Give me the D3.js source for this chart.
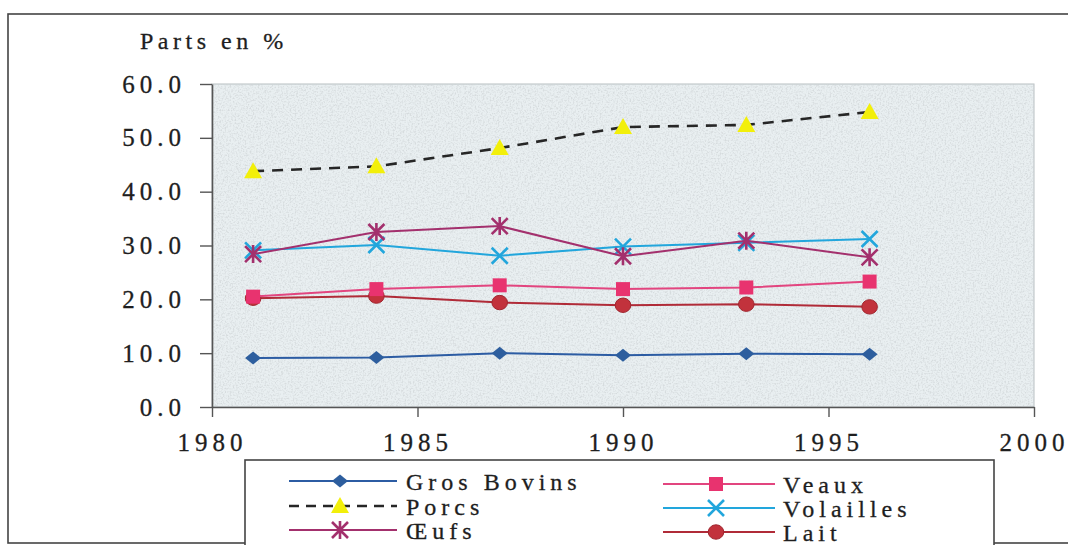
<!DOCTYPE html>
<html>
<head>
<meta charset="utf-8">
<script src="https://cdn.jsdelivr.net/npm/d3@7"></script>
<style>
  body { margin: 0; background: #fff; }
  svg text { font-family: "Liberation Serif", "Times New Roman", Times, "DejaVu Serif", serif !important; fill: #1e1e1e; stroke: #1e1e1e; stroke-width: 0.3px; }
</style>
</head>
<body>
<div id="vis"></div>
<script>
var years = [1981, 1984, 1987, 1990, 1993, 1996];
var grosBovins = [9.1, 9.2, 10.0, 9.6, 9.9, 9.8];
var veaux = [20.5, 21.9, 22.6, 21.9, 22.2, 23.3];
var porcs = [43.8, 44.7, 48.1, 52.0, 52.4, 54.8];
var volailles = [29.1, 30.1, 28.1, 29.8, 30.5, 31.2];
var oeufs = [28.4, 32.5, 33.6, 28.0, 30.9, 27.8];
var lait = [20.2, 20.6, 19.4, 18.9, 19.1, 18.6];
var yTicks = [0, 10, 20, 30, 40, 50, 60];
var xTicks = [1980, 1985, 1990, 1995, 2000];

var width = 1068;
var height = 545;

var series = [
  {name: "Gros Bovins", values: grosBovins, color: "#2c5ca3", marker: "diamond", fill: "#2d5e9e", col: 0, row: 0},
  {name: "Veaux", values: veaux, color: "#e2457f", marker: "square", fill: "#e8336f", col: 1, row: 0},
  {name: "Porcs", values: porcs, color: "#262626", marker: "triangle", fill: "#f2ef0a", dash: "11,8", col: 0, row: 1},
  {name: "Volailles", values: volailles, color: "#22a6dc", marker: "x", fill: "#22a6dc", col: 1, row: 1},
  {name: "Œufs", values: oeufs, color: "#a3306d", marker: "star", fill: "#a3306d", col: 0, row: 2},
  {name: "Lait", values: lait, color: "#b02b38", marker: "circle", fill: "#c2323c", col: 1, row: 2}
];

var x = d3.scaleLinear().domain([1980, 2000]).range([212, 1034]);
var y = d3.scaleLinear().domain([0, 60]).range([407, 84]);

var svg = d3.select('#vis').append('svg')
  .attr('width', width)
  .attr('height', height);

// speckled scan texture for the plot area
var defs = svg.append('defs');
var f = defs.append('filter').attr('id', 'grain').attr('x', 0).attr('y', 0).attr('width', 1).attr('height', 1);
f.append('feTurbulence').attr('type', 'fractalNoise').attr('baseFrequency', 0.6).attr('numOctaves', 2).attr('seed', 4).attr('result', 'n');
f.append('feColorMatrix').attr('in', 'n').attr('type', 'matrix')
  .attr('values', '0 0 0 0 0.6  0 0 0 0 0.63  0 0 0 0 0.65  0 0 0 -3 1.7');
f.append('feComposite').attr('in2', 'SourceGraphic').attr('operator', 'in');

// outer frame
svg.append('rect')
  .attr('x', 8).attr('y', 14).attr('width', 1080).attr('height', 529)
  .attr('fill', 'none').attr('stroke', '#444').attr('stroke-width', 1.6);

svg.append('rect')
  .attr('x', x(1980)).attr('y', y(60))
  .attr('width', x(2000) - x(1980)).attr('height', y(0) - y(60))
  .attr('fill', '#e9eff1').attr('stroke', '#b8bfc2').attr('stroke-width', 1);
svg.append('rect')
  .attr('x', x(1980)).attr('y', y(60))
  .attr('width', x(2000) - x(1980)).attr('height', y(0) - y(60))
  .attr('fill', '#fff').attr('filter', 'url(#grain)').attr('opacity', 0.6);

svg.append('text')
  .attr('x', 140).attr('y', 49)
  .style('font-size', '24px').style('letter-spacing', '4.5px')
  .text('Parts en %');

var yAxis = svg.append('g')
  .attr('transform', 'translate(' + x(1980) + ',0)')
  .call(d3.axisLeft(y).tickValues(yTicks).tickSize(12).tickSizeOuter(0).tickPadding(14)
    .tickFormat(d3.format('.1f')));

var xAxis = svg.append('g')
  .attr('transform', 'translate(0,' + y(0) + ')')
  .call(d3.axisBottom(x).tickValues(xTicks).tickSize(10).tickSizeOuter(0).tickPadding(16)
    .tickFormat(d3.format('d')));

[yAxis, xAxis].forEach(function (g) {
  g.attr('font-family', null);
  g.select('.domain').attr('stroke', '#555').attr('stroke-width', 1.6);
  g.selectAll('.tick line').attr('stroke', '#555').attr('stroke-width', 1.4);
  g.selectAll('.tick text')
    .attr('fill', '#222')
    .style('font-size', '25px')
    .style('letter-spacing', '5px');
});

function markerPath(type) {
  if (type === 'diamond') return 'M-8,0L0,-6.5L8,0L0,6.5Z';
  if (type === 'square') return 'M-7,-7H7V7H-7Z';
  if (type === 'triangle') return 'M0,-9L9,7H-9Z';
  if (type === 'x') return 'M-8,-8L8,8M8,-8L-8,8';
  if (type === 'star') return 'M-8,-8L8,8M8,-8L-8,8M0,-9V9';
  return null;
}

function drawMarker(g, s, cx, cy) {
  if (s.marker === 'circle') {
    g.append('ellipse')
      .attr('cx', cx).attr('cy', cy).attr('rx', 7.8).attr('ry', 7.2)
      .attr('fill', s.fill).attr('stroke', '#a0262f').attr('stroke-width', 1);
  } else if (s.marker === 'x' || s.marker === 'star') {
    g.append('path')
      .attr('transform', 'translate(' + cx + ',' + cy + ')')
      .attr('d', markerPath(s.marker))
      .attr('fill', 'none').attr('stroke', s.fill).attr('stroke-width', 2.6);
  } else {
    g.append('path')
      .attr('transform', 'translate(' + cx + ',' + cy + ')')
      .attr('d', markerPath(s.marker))
      .attr('fill', s.fill);
  }
}

var line = d3.line()
  .x(function (d) { return x(d.year); })
  .y(function (d) { return y(d.value); });

var plotOrder = [lait, grosBovins, veaux, volailles, oeufs, porcs];
plotOrder.forEach(function (vals) {
  var s = series.filter(function (d) { return d.values === vals; })[0];
  var pts = years.map(function (yr, i) { return {year: yr, value: s.values[i]}; });
  var g = svg.append('g');
  g.append('path')
    .datum(pts)
    .attr('d', line)
    .attr('fill', 'none')
    .attr('stroke', s.color)
    .attr('stroke-width', s.dash ? 2.6 : 2)
    .attr('stroke-dasharray', s.dash || null);
  pts.forEach(function (p) { drawMarker(g, s, x(p.year), y(p.value)); });
});

// legend
var legend = svg.append('g');
legend.append('rect')
  .attr('x', 245).attr('y', 460).attr('width', 749).attr('height', 100)
  .attr('fill', '#fff').attr('stroke', '#444').attr('stroke-width', 1.6);

var colX = [{x0: 289, x1: 397, text: 406}, {x0: 663, x1: 775, text: 783}];
var rowY = [[481, 506, 530], [484, 508, 532]];

series.forEach(function (s) {
  var c = colX[s.col];
  var ly = rowY[s.col][s.row];
  var g = legend.append('g');
  g.append('line')
    .attr('x1', c.x0).attr('x2', c.x1).attr('y1', ly).attr('y2', ly)
    .attr('stroke', s.color)
    .attr('stroke-width', s.dash ? 2.4 : 2)
    .attr('stroke-dasharray', s.dash ? '10,7' : null);
  drawMarker(g, s, (c.x0 + c.x1) / 2 - 3, ly);
  g.append('text')
    .attr('x', c.text).attr('y', ly + 9)
    .style('font-size', '24px').style('letter-spacing', '5px')
    .text(s.name);
});
</script>
</body>
</html>
